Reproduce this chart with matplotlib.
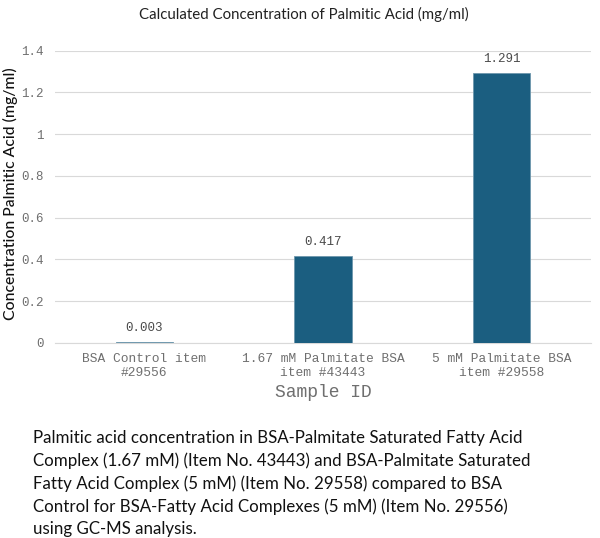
import matplotlib.pyplot as plt
import numpy as np

# sample names and measured palmitic acid (mg/ml)
samples = ["BSA Control item\n#29556", "1.67 mM Palmitate BSA\nitem #43443", "5 mM Palmitate BSA\nitem #29558"]
conc = [0.003, 0.417, 1.291]
yticks = [0, 0.2, 0.4, 0.6, 0.8, 1, 1.2, 1.4]
ytick_labels = ["0", "0.2", "0.4", "0.6", "0.8", "1", "1.2", "1.4"]

caption = ("Palmitic acid concentration in BSA-Palmitate Saturated Fatty Acid\n"
           "Complex (1.67 mM) (Item No. 43443) and BSA-Palmitate Saturated\n"
           "Fatty Acid Complex (5 mM) (Item No. 29558) compared to BSA\n"
           "Control for BSA-Fatty Acid Complexes (5 mM) (Item No. 29556)\n"
           "using GC-MS analysis.")

BAR = "#1b5e80"
MONO = "Liberation Mono"
TICK = "#6f6f6f"

fig = plt.figure(figsize=(6, 5.38), dpi=100)
ax = fig.add_axes([0.0917, 0.3625, 0.8933, 0.5435])

x = np.arange(len(samples))
ax.bar(x, conc, width=0.32, color=BAR, edgecolor="#6e97ad", linewidth=0.6, zorder=3)

for xi, v in zip(x, conc):
    ax.annotate(f"{v:.3f}", (xi, v), xytext=(0, 6), textcoords="offset points",
                ha="center", va="bottom", fontsize=9, family=MONO, color="#4a4a4a")

ax.set_xlim(-0.5, 2.5)
ax.set_ylim(0, 1.4)
ax.set_yticks(yticks)
ax.set_yticklabels(ytick_labels, family=MONO, fontsize=9, color=TICK)
ax.set_xticks(x)
ax.set_xticklabels(samples, family=MONO, fontsize=9.3, color=TICK, linespacing=1.3)
ax.tick_params(length=0, pad=8)
ax.tick_params(axis="x", pad=7)

ax.grid(axis="y", color="#d9d9d9", linewidth=0.8, zorder=0)
for s in ["top", "right", "left"]:
    ax.spines[s].set_visible(False)
ax.spines["bottom"].set_color("#d9d9d9")
ax.spines["bottom"].set_linewidth(0.8)

ax.set_xlabel("Sample ID", family=MONO, fontsize=13, color=TICK, labelpad=3)
ax.set_ylabel("Concentration Palmitic Acid (mg/ml)", family="Lato", fontsize=11.3,
              fontweight="medium", color="#111111")
ax.yaxis.set_label_coords(-0.07, 0.51)
ax.set_title("Calculated Concentration of Palmitic Acid (mg/ml)", family="Lato",
             fontsize=10.8, color="#222222", pad=23, x=0.465)

fig.text(0.055, 0.2, caption, family="Lato", fontsize=12.2, color="#111111",
         va="top", ha="left", linespacing=1.46)

fig.savefig("out.png", dpi=100)
